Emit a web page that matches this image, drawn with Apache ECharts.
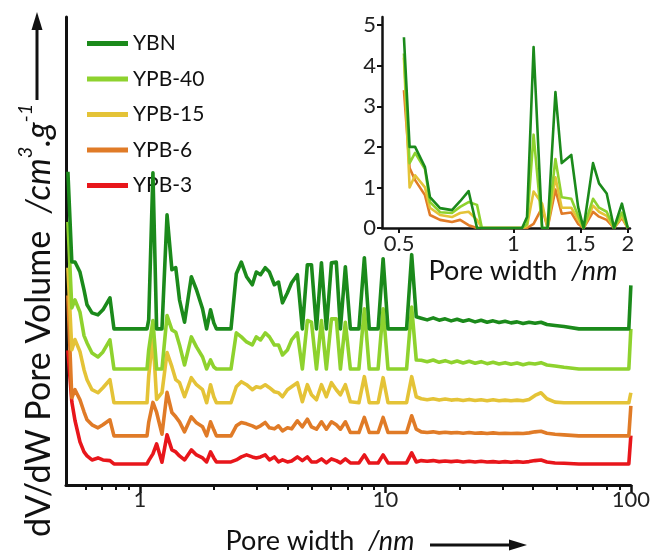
<!DOCTYPE html>
<html>
<head>
<meta charset="utf-8">
<script src="https://cdn.jsdelivr.net/npm/echarts@6/dist/echarts.min.js"></script>
<style>
  html, body { margin: 0; padding: 0; background: #ffffff; }
  #chart { width: 653px; height: 559px; }
</style>
</head>
<body>
<div id="chart"></div>
<script>
// Pore size distributions (dV/dW) of the five samples.
const FONT = 'Lato';
const seriesNames = ['YBN', 'YPB-40', 'YPB-15', 'YPB-6', 'YPB-3'];
const seriesColors = ['#1b8a1b', '#8ed22e', '#e4c337', '#e07b27', '#e8161b'];
// vertical shift of each curve in the stacked main panel
const offsets = [4.67, 3.47, 2.46, 1.47, 0.63];

// pore width grid of the main panel (nm)
const poreWidth = [
  0.509, 0.528, 0.544, 0.570, 0.592, 0.609, 0.638, 0.675, 0.707, 0.755, 0.784,
  1.069, 1.086, 1.13, 1.17, 1.23, 1.29, 1.35, 1.40, 1.45, 1.52, 1.62, 1.70, 1.80, 1.87, 1.94, 2.0, 2.05,
  2.35, 2.47, 2.59, 2.72, 2.87, 2.98, 3.10, 3.24, 3.37, 3.53, 3.67, 3.81, 3.99, 4.15, 4.38,
  4.59, 4.81, 5.0, 5.24, 5.49, 5.75, 6.03, 6.31, 6.56, 6.87, 7.2, 7.8, 8.21, 8.6, 9.34, 9.79, 10.25, 12.2, 12.8, 13.36,
  14.0, 14.8, 15.66, 16.56, 17.52, 18.53, 19.6, 20.74, 21.94, 23.2, 24.55, 25.96, 27.47, 29.05, 30.73, 32.5,
  34.4, 36.4, 38.5, 40.7, 43.05, 45.5, 49.1, 53.4, 61.4, 98.1, 100
];

const ybn = [
  4.70, 2.0, 2.0, 1.7, 1.17, 0.72, 0.48, 0.42, 0.57, 0.93, 0,
  0, 0.27, 4.67, 0, 0, 3.41, 1.77, 1.83, 0.87, 0.2, 1.56, 1.17, 0.6, 0, 0.57, 0.18, 0,
  0, 1.65, 2.0, 1.56, 1.32, 1.7, 1.62, 1.83, 1.7, 1.32, 1.4, 0.78, 1.08, 1.38, 1.62,
  0, 1.92, 1.92, 0, 1.98, 0, 1.98, 2.0, 0, 1.86, 0, 0, 2.13, 0, 0, 2.1, 0, 0, 2.22, 0.36,
  0.32, 0.27, 0.33, 0.26, 0.3, 0.24, 0.29, 0.23, 0.27, 0.21, 0.26, 0.2, 0.24, 0.19, 0.23, 0.18,
  0.21, 0.16, 0.2, 0.17, 0.2, 0.13, 0.1, 0.07, 0, 0, 1.3
];
const ypb40 = [
  4.4, 1.83, 2.07, 1.7, 1.0, 0.78, 0.48, 0.36, 0.51, 0.87, 0,
  0, 0.57, 1.45, 0, 0, 1.6, 1.17, 1.1, 0.72, 0.12, 0.96, 0.66, 0.36, 0, 0.27, 0.06, 0,
  0, 1.08, 0.96, 0.81, 0.72, 0.96, 0.87, 1.08, 0.96, 0.72, 0.72, 0.42, 0.57, 0.87, 1.08,
  0, 1.45, 1.4, 0, 1.45, 0, 1.5, 1.5, 0, 1.4, 0, 0, 1.8, 0, 0, 1.8, 0, 0, 1.85, 0.27,
  0.26, 0.22, 0.27, 0.2, 0.25, 0.19, 0.24, 0.18, 0.23, 0.17, 0.22, 0.16, 0.2, 0.15, 0.19, 0.14,
  0.18, 0.13, 0.17, 0.15, 0.19, 0.12, 0.09, 0.05, 0, 0, 1.2
];
const ypb15 = [
  4.04, 1.59, 1.89, 1.53, 0.99, 0.69, 0.39, 0.3, 0.45, 0.69, 0,
  0, 0.8, 2.0, 0.1, 0.3, 1.5, 1.08, 0.69, 0.6, 0.18, 0.75, 0.54, 0.39, 0, 0.54, 0.18, 0,
  0, 0.48, 0.63, 0.54, 0.39, 0.48, 0.45, 0.54, 0.45, 0.33, 0.3, 0.18, 0.39, 0.48, 0.6,
  0.03, 0.54, 0.24, 0.09, 0.54, 0.18, 0.6, 0.39, 0.24, 0.54, 0.03, 0, 0.78, 0, 0, 0.75, 0, 0, 0.78, 0.18,
  0.12, 0.09, 0.12, 0.08, 0.11, 0.08, 0.1, 0.07, 0.1, 0.07, 0.09, 0.06, 0.09, 0.06, 0.08, 0.06,
  0.08, 0.06, 0.1, 0.22, 0.3, 0.12, 0.02, 0, 0, 0, 0.3
];
const ypb6 = [
  4.2, 1.14, 1.38, 1.08, 0.72, 0.48, 0.33, 0.24, 0.33, 0.48, 0,
  0, 0.4, 1.0, 0.7, 0.05, 1.3, 0.7, 0.57, 0.42, 0.12, 0.57, 0.39, 0.27, 0, 0.42, 0.18, 0,
  0, 0.3, 0.4, 0.36, 0.3, 0.24, 0.3, 0.4, 0.24, 0.21, 0.3, 0.15, 0.24, 0.21, 0.45,
  0.27, 0.5, 0.27, 0.2, 0.42, 0.2, 0.42, 0.33, 0.2, 0.42, 0.1, 0.1, 0.55, 0.1, 0.1, 0.55, 0.1, 0.1, 0.6, 0.2,
  0.12, 0.1, 0.12, 0.09, 0.11, 0.09, 0.1, 0.08, 0.1, 0.08, 0.09, 0.07, 0.09, 0.07, 0.08, 0.07,
  0.08, 0.07, 0.09, 0.12, 0.14, 0.08, 0.05, 0.03, 0, 0, 0.9
];
const ypb3 = [
  3.4, 1.86, 1.3, 0.66, 0.36, 0.24, 0.12, 0.18, 0.12, 0.1, 0,
  0, 0.1, 0.3, 0.6, 0.05, 0.87, 0.42, 0.36, 0.24, 0.12, 0.42, 0.27, 0.18, 0.06, 0.36, 0.18, 0.06,
  0.06, 0.12, 0.21, 0.27, 0.21, 0.18, 0.21, 0.27, 0.12, 0.21, 0.06, 0.12, 0.06, 0.09, 0.21,
  0.1, 0.21, 0.06, 0.06, 0.15, 0.03, 0.15, 0.1, 0.03, 0.15, 0.03, 0.03, 0.27, 0.03, 0.03, 0.27, 0.03, 0.03, 0.33, 0.06,
  0.1, 0.08, 0.1, 0.07, 0.09, 0.07, 0.09, 0.06, 0.08, 0.06, 0.08, 0.06, 0.07, 0.05, 0.07, 0.05,
  0.07, 0.05, 0.07, 0.1, 0.12, 0.06, 0.03, 0.02, 0, 0, 0.85
];
const mainValues = [ybn, ypb40, ypb15, ypb6, ypb3];

// micropore detail (inset), 0.5 - 2 nm
const insetWidth = [
  0.515, 0.533, 0.551, 0.585, 0.603, 0.641, 0.689, 0.724, 0.762, 0.802, 0.826,
  1.054, 1.086, 1.13, 1.19, 1.23, 1.29, 1.34, 1.42, 1.48, 1.53, 1.62, 1.68, 1.76, 1.84, 1.93, 2.0
];
const insetYbn = [
  4.7, 2.0, 2.0, 1.5, 0.76, 0.49, 0.44, 0.66, 0.91, 0, 0,
  0, 0.27, 4.46, 0, 0, 3.35, 1.6, 1.8, 0.52, 0, 1.6, 1.1, 0.85, 0, 0.6, 0
];
const insetYpb40 = [
  4.3, 1.6, 1.85, 1.45, 0.64, 0.39, 0.37, 0.52, 0.64, 0.57, 0,
  0, 0.1, 2.3, 0, 0, 1.7, 0.76, 0.72, 0.3, 0, 0.72, 0.5, 0.4, 0, 0.38, 0
];
const insetYpb15 = [
  4.2, 1.0, 1.3, 1.0, 0.5, 0.32, 0.27, 0.37, 0.4, 0.2, 0,
  0, 0.05, 0.9, 0.6, 0, 1.25, 0.5, 0.5, 0.2, 0, 0.55, 0.4, 0.3, 0, 0.3, 0
];
const insetYpb6 = [
  3.4, 1.48, 1.18, 0.81, 0.32, 0.2, 0.15, 0.2, 0.07, 0, 0,
  0, 0, 0.1, 0.5, 0, 0.95, 0.35, 0.38, 0.1, 0, 0.4, 0.28, 0.2, 0, 0.25, 0
];
const insetValues = [insetYbn, insetYpb40, insetYpb15, insetYpb6];

// tick positions
const mainMajorTicks = [1, 10, 100];
const mainMinorTicks = [0.6, 0.7, 0.8, 0.9, 2, 3, 4, 5, 6, 7, 8, 9, 20, 30, 40, 50, 60, 70, 80, 90];
const insetTicksX = [0.5, 1, 1.5, 2];
const insetTicksY = [0, 1, 2, 3, 4, 5];

const chart = echarts.init(document.getElementById('chart'), null, { renderer: 'canvas' });

const series = [];
mainValues.forEach((vals, k) => {
  series.push({
    name: seriesNames[k],
    type: 'line',
    xAxisIndex: 0,
    yAxisIndex: 0,
    symbol: 'none',
    z: 10 - k,
    color: seriesColors[k],
    lineStyle: { width: 3.6, color: seriesColors[k], join: 'round' },
    data: poreWidth.map((x, i) => [x, vals[i] + offsets[k]])
  });
});
insetValues.forEach((vals, k) => {
  series.push({
    name: seriesNames[k],
    type: 'line',
    xAxisIndex: 2,
    yAxisIndex: 1,
    symbol: 'none',
    z: 10 - k,
    color: seriesColors[k],
    lineStyle: { width: 2.6, color: seriesColors[k], join: 'round' },
    data: insetWidth.map((x, i) => [x, vals[i]])
  });
});

const axisBlack = '#111111';

const option = {
  animation: false,
  backgroundColor: '#ffffff',
  textStyle: { fontFamily: FONT },
  grid: [
    { left: 66, right: 22, top: 17, bottom: 74 },
    { left: 382, right: 23, top: 17, bottom: 331 }
  ],
  legend: {
    orient: 'vertical',
    left: 82,
    top: 28,
    itemWidth: 41,
    itemHeight: 5,
    itemGap: 14.5,
    icon: 'rect',
    data: seriesNames,
    textStyle: { fontFamily: FONT, fontSize: 21, lineHeight: 21, color: '#111' }
  },
  xAxis: [
    {
      type: 'log', gridIndex: 0, min: 0.5, max: 100, position: 'bottom',
      axisLine: { show: true, lineStyle: { color: axisBlack, width: 3 } },
      axisTick: { show: true, customValues: mainMajorTicks, length: 8, lineStyle: { color: axisBlack, width: 2.5 } },
      axisLabel: { show: true, customValues: mainMajorTicks, fontFamily: FONT, fontSize: 22, color: '#222', margin: 4,
        formatter: v => String(v) },
      splitLine: { show: false }, minorTick: { show: false }
    },
    {
      type: 'log', gridIndex: 0, min: 0.5, max: 100, position: 'bottom',
      axisLine: { show: false },
      axisTick: { show: true, customValues: mainMinorTicks, length: 5, lineStyle: { color: axisBlack, width: 2 } },
      axisLabel: { show: false },
      splitLine: { show: false }
    },
    {
      type: 'log', gridIndex: 1, min: 0.4509, max: 2.027, position: 'bottom',
      axisLine: { show: true, lineStyle: { color: axisBlack, width: 2.5 } },
      axisTick: { show: true, customValues: insetTicksX, length: 5, lineStyle: { color: axisBlack, width: 2 } },
      axisLabel: { show: true, customValues: insetTicksX, fontFamily: FONT, fontSize: 22, color: '#222', margin: 5,
        formatter: v => String(v) },
      splitLine: { show: false }
    }
  ],
  yAxis: [
    {
      type: 'value', gridIndex: 0, min: 0, max: 14,
      axisLine: { show: true, lineStyle: { color: axisBlack, width: 3 } },
      axisTick: { show: false }, axisLabel: { show: false }, splitLine: { show: false }
    },
    {
      type: 'value', gridIndex: 1, min: 0, max: 5.2,
      axisLine: { show: true, lineStyle: { color: axisBlack, width: 2.5 } },
      axisTick: { show: true, customValues: insetTicksY, length: 5, lineStyle: { color: axisBlack, width: 2 } },
      axisLabel: { show: true, customValues: insetTicksY, fontFamily: FONT, fontSize: 22, color: '#222', margin: 6 },
      splitLine: { show: false }
    }
  ],
  graphic: [
    {
      type: 'text', x: 36, y: 537, rotation: Math.PI / 2,
      style: {
        text: '{n|dV/dW Pore Volume  }{i|/cm}{s|3}{i|.g}{s|-1}',
        textAlign: 'left', textVerticalAlign: 'middle', fill: '#111',
        rich: {
          n: { fontFamily: FONT, fontSize: 34, lineHeight: 40, verticalAlign: 'bottom', fill: '#111' },
          i: { fontFamily: FONT, fontSize: 34, fontStyle: 'italic', lineHeight: 40, verticalAlign: 'bottom', fill: '#111' },
          s: { fontFamily: FONT, fontSize: 20, fontStyle: 'italic', lineHeight: 40, verticalAlign: 'top', fill: '#111' }
        }
      }
    },
    { type: 'line', shape: { x1: 37, y1: 100, x2: 37, y2: 26 }, style: { stroke: '#111', lineWidth: 3 } },
    { type: 'polygon', shape: { points: [[31.5, 30], [42.5, 30], [37, 12]] }, style: { fill: '#111' } },
    {
      type: 'text', x: 320, y: 541,
      style: {
        text: '{n|Pore width  }{i|/nm}',
        textAlign: 'center', textVerticalAlign: 'middle', fill: '#111',
        rich: {
          n: { fontFamily: FONT, fontSize: 27, fill: '#111' },
          i: { fontFamily: FONT, fontSize: 27, fontStyle: 'italic', fill: '#111' }
        }
      }
    },
    { type: 'line', shape: { x1: 430, y1: 545, x2: 512, y2: 545 }, style: { stroke: '#111', lineWidth: 3 } },
    { type: 'polygon', shape: { points: [[509, 539.5], [509, 550.5], [527, 545]] }, style: { fill: '#111' } },
    {
      type: 'text', x: 523, y: 271,
      style: {
        text: '{n|Pore width  }{i|/nm}',
        textAlign: 'center', textVerticalAlign: 'middle', fill: '#111',
        rich: {
          n: { fontFamily: FONT, fontSize: 27, fill: '#111' },
          i: { fontFamily: FONT, fontSize: 27, fontStyle: 'italic', fill: '#111' }
        }
      }
    }
  ],
  series: series
};

chart.setOption(option);
</script>
</body>
</html>
